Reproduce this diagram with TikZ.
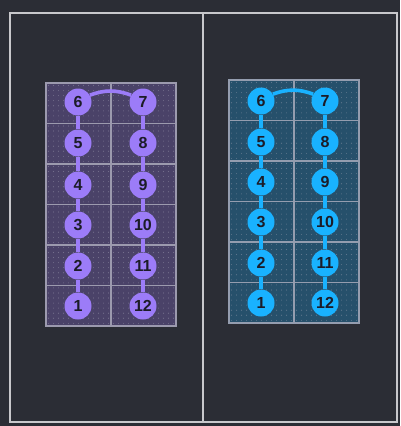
\documentclass[tikz,border=0pt]{standalone}
\usepackage{fontspec}
\setmainfont{Liberation Sans}
\definecolor{bg}{HTML}{2B2D35}
\definecolor{frame}{HTML}{C8C8CC}
\definecolor{pfill}{HTML}{4A4268}
\definecolor{pnode}{HTML}{9C7CF8}
\definecolor{bfill}{HTML}{26506B}
\definecolor{bnode}{HTML}{19B2FF}
\definecolor{gridc}{HTML}{B0B0C0}
\definecolor{txt}{HTML}{1C1C28}
\pgfdeclarelayer{back}
\pgfdeclarelayer{front}
\pgfsetlayers{back,main,front}
\tikzset{
  seat/.style={circle,minimum size=27pt,inner sep=0pt,font=\bfseries\fontsize{16}{16}\selectfont,text=txt},
  link/.style={line width=3.6pt},
}
\begin{document}
\begin{tikzpicture}[x=1pt,y=-1pt]
\useasboundingbox (0,0) rectangle (400,426);
\begin{pgfonlayer}{back}
\fill[bg] (0,0) rectangle (400,426);
\draw[frame,line width=1.2pt] (10,13) rectangle (397,422);
\draw[frame,line width=1.2pt] (203,13) -- (203,422);
\foreach \px/\py/\pf in {46/83/pfill,229/80/bfill}{
  \fill[\pf] (\px,\py) rectangle ++(130,243);
  \foreach \i in {0,...,25}{
    \foreach \j in {0,...,47}{
      \fill[gridc!40!\pf] ({\px+2.5+\i*5},{\py+2.5+\j*5.06}) circle (0.55pt);
    }
  }
  \draw[gridc!80!\pf,line width=1.4pt] (\px,\py) rectangle ++(130,243);
  \draw[gridc!80!\pf,line width=1.4pt] ({\px+65},\py) -- ++(0,243);
  \foreach \k in {1,...,5}{
    \draw[gridc!80!\pf,line width=1.4pt] (\px,{\py+\k*40.5}) -- ++(130,0);
  }
}
\end{pgfonlayer}
\begin{pgfonlayer}{front}
\foreach \n/\x/\y in {1/78/306,2/78/266,3/78/225,4/78/185,5/78/143,6/78/102,7/143/102,8/143/143,9/143/185,10/143/225,11/143/266,12/143/306}{
  \node[seat,fill=pnode] (L\n) at (\x,\y) {\n};
}
\foreach \n/\x/\y in {1/261/303,2/261/263,3/261/222,4/261/182,5/261/142,6/261/101,7/325/101,8/325/142,9/325/182,10/325/222,11/325/263,12/325/303}{
  \node[seat,fill=bnode] (R\n) at (\x,\y) {\n};
}
\end{pgfonlayer}
\foreach \s/\c in {L/pnode,R/bnode}{
  \foreach \a/\b in {1/2,2/3,3/4,4/5,5/6,7/8,8/9,9/10,10/11,11/12}{
    \draw[\c,link] (\s\a) -- (\s\b);
  }
  \draw[\c,link] (\s6.30) to[out=20,in=160] (\s7.150);
}
\end{tikzpicture}
\end{document}
